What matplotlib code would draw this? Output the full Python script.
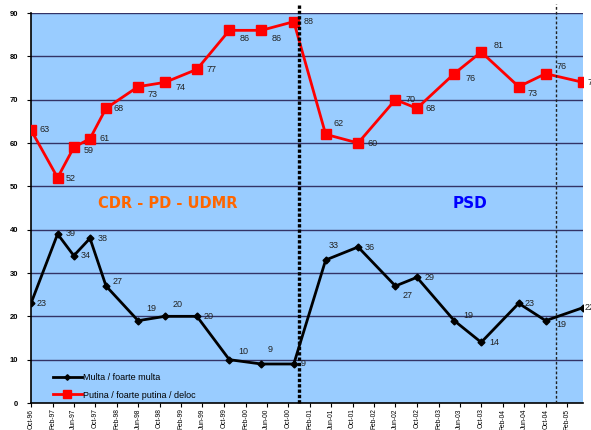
import matplotlib
matplotlib.use("Agg")
import matplotlib.pyplot as plt
import matplotlib.dates as mdates
import pandas as pd

# ---- data ----
dates = ["1996-10", "1997-03", "1997-06", "1997-09", "1997-12", "1998-06", "1998-11",
         "1999-05", "1999-11", "2000-05", "2000-11", "2001-05", "2001-11", "2002-06",
         "2002-10", "2003-05", "2003-10", "2004-05", "2004-10", "2005-05"]
multa = [23, 39, 34, 38, 27, 19, 20, 20, 10, 9, 9, 33, 36, 27, 29, 19, 14, 23, 19, 22]
putina = [63, 52, 59, 61, 68, 73, 74, 77, 86, 86, 88, 62, 60, 70, 68, 76, 81, 73, 76, 74]
series_names = ["Multa / foarte multa", "Putina / foarte putina / deloc"]
period_labels = ["CDR - PD - UDMR", "PSD"]
breaks = ["2000-12", "2004-12"]
x_start, x_end = "1996-10", "2005-05"

# label offsets (pixels: dx right, dy down) -- style only
off_multa = [(6, 0), (8, 0), (7, 0), (8, 0), (7, -4), (8, -12), (8, -12), (7, 0), (9, -8), (6, -14),
             (7, 0), (3, -15), (7, 0), (7, 9), (8, 0), (9, -5), (8, 0), (6, 0), (11, 4), (2, 0)]
off_putina = [(8, 0), (8, 1), (10, 3), (9, 0), (7, 0), (9, 8), (10, 5), (10, 0), (10, 8), (10, 8),
              (10, 0), (8, -11), (9, 0), (10, 0), (9, 0), (11, 5), (12, -7), (9, 7), (11, -7), (5, 0)]

x = pd.to_datetime(dates)
plt.rcParams['font.family'] = ['Liberation Sans', 'DejaVu Sans']

fig = plt.figure(figsize=(5.91, 4.30), dpi=100)
ax = fig.add_axes([31/591, 1-403/430, (583-31)/591, 390/430])
ax.set_facecolor('#99CCFF')

ax.set_ylim(0, 90)
ax.set_yticks(range(0, 91, 10))
ax.set_xlim(pd.Timestamp(x_start), pd.Timestamp(x_end))
for yv in range(10, 91, 10):
    ax.axhline(yv, color='#333366', lw=1.0, zorder=1)

ax.plot(x, multa, color='black', lw=2.0, marker='D', markersize=3.5, label=series_names[0], zorder=3)
ax.plot(x, putina, color='#FF0000', lw=2.0, marker='s', markersize=7.5, label=series_names[1], zorder=3)

for xi, v, (dx, dy) in zip(x, multa, off_multa):
    ax.annotate(str(v), (xi, v), xytext=(dx, -dy), textcoords='offset pixels',
                fontsize=6.5, color='#222222', ha='left', va='center', annotation_clip=False, zorder=4)
for xi, v, (dx, dy) in zip(x, putina, off_putina):
    ax.annotate(str(v), (xi, v), xytext=(dx, -dy), textcoords='offset pixels',
                fontsize=6.5, color='#222222', ha='left', va='center', annotation_clip=False, zorder=4)

b0, b1 = pd.to_datetime(breaks)
ax.axvline(b0, ymin=0, ymax=(403-4)/390, color='black', lw=2.4, ls=(0, (1, 0.6)), clip_on=False, zorder=5)
ax.axvline(b1, ymin=0, ymax=(403-4)/390, color='#222222', lw=1.0, ls=(0, (2, 1.5)), clip_on=False, zorder=5)

ax.text(pd.Timestamp("1998-11-15"), 46, period_labels[0], color='#FF6600', fontsize=10.5,
        fontweight='bold', family='DejaVu Sans', ha='center', va='center', zorder=4)
ax.text(pd.Timestamp("2003-08-01"), 46, period_labels[1], color='#0000FF', fontsize=11,
        fontweight='bold', family='DejaVu Sans', ha='center', va='center', zorder=4)

ax.xaxis.set_major_locator(mdates.MonthLocator(bymonth=[2, 6, 10]))
ax.xaxis.set_major_formatter(mdates.DateFormatter('%b-%y'))
for lab in ax.get_xticklabels():
    lab.set_rotation(90)
ax.tick_params(axis='x', labelsize=4.8, length=3, width=0.8, pad=1)
ax.tick_params(axis='y', labelsize=5.5, length=3, width=0.8, pad=6)
for lab in ax.get_yticklabels():
    lab.set_fontweight('bold')

for s in ['top', 'right']:
    ax.spines[s].set_visible(False)
ax.spines['left'].set_linewidth(1.2)
ax.spines['bottom'].set_linewidth(1.2)

leg = ax.legend(loc='lower left', bbox_to_anchor=(0.025, -0.012), frameon=False, fontsize=6.5,
                handlelength=3.2, handletextpad=0.1, labelspacing=0.9, markerscale=0.8)

fig.savefig('out.png', dpi=100)
